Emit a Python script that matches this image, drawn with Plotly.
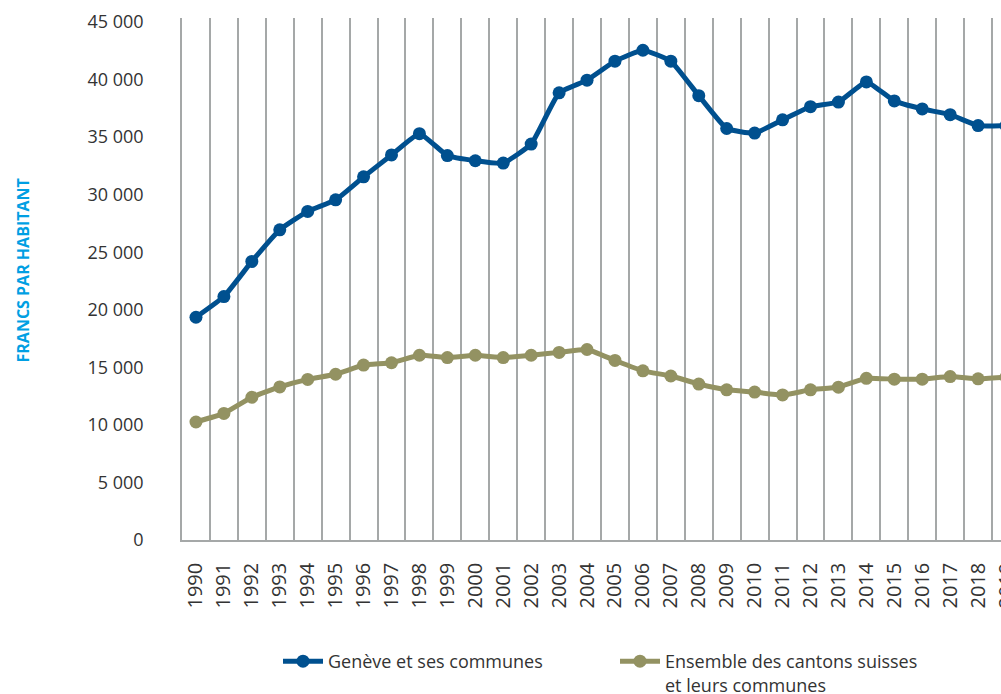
import plotly.graph_objects as go

years = [str(y) for y in range(1990, 2020)]
geneve = [19350, 21150, 24200, 26950, 28550, 29550, 31550, 33450, 35300, 33400,
          32950, 32750, 34400, 38850, 39950, 41600, 42550, 41600, 38600, 35750,
          35350, 36500, 37650, 38050, 39800, 38150, 37450, 36950, 36000, 36000]
suisse = [10250, 11000, 12400, 13300, 13950, 14400, 15200, 15400, 16050, 15850,
          16050, 15850, 16050, 16300, 16550, 15600, 14700, 14250, 13550, 13050,
          12850, 12600, 13050, 13280, 14050, 13970, 13970, 14200, 14000, 14150]
y_ticks = [0, 5000, 10000, 15000, 20000, 25000, 30000, 35000, 40000, 45000]

name_geneve = "Genève et ses communes"
name_suisse = "Ensemble des cantons suisses<br>et leurs communes"

BLUE = "#00508f"
OLIVE = "#939262"
GRID = "#a5a8a8"
FONT = "Open Sans"

W, H = 1030, 694
L, R, T, B = 182, 10, 18, 154

fig = go.Figure()
fig.add_trace(go.Scatter(
    x=years, y=geneve, name=name_geneve, mode="lines+markers",
    line=dict(color=BLUE, width=5, shape="spline", smoothing=0.4),
    marker=dict(color=BLUE, size=13),
))
fig.add_trace(go.Scatter(
    x=years, y=suisse, name=name_suisse, mode="lines+markers",
    line=dict(color=OLIVE, width=5, shape="spline", smoothing=0.4),
    marker=dict(color=OLIVE, size=13),
))

fig.update_layout(
    width=W, height=H,
    margin=dict(l=L, r=R, t=T, b=B, pad=0),
    paper_bgcolor="white", plot_bgcolor="white",
    separators=", ",
    font=dict(family=FONT, color="#333333", size=18),
    showlegend=True,
    legend=dict(
        orientation="h", xref="container", yref="container",
        x=278 / W, xanchor="left", y=1 - 643 / H, yanchor="top",
        font=dict(family=FONT, size=18, color="#333333"),
        itemwidth=40,
        entrywidth=282, entrywidthmode="pixels",
        valign="top", traceorder="normal",
        bgcolor="rgba(0,0,0,0)",
    ),
    annotations=[dict(
        text="<b>FRANCS PAR HABITANT</b>", textangle=-90,
        xref="paper", yref="paper",
        x=(22.5 - L) / (W - L - R), y=(540 - 271) / (H - T - B),
        xanchor="center", yanchor="middle", showarrow=False,
        font=dict(family=FONT, size=16, color="#009fe3"),
    )],
)

fig.update_xaxes(
    type="category", range=[-0.5, 29.5],
    tickson="boundaries", showgrid=True, gridcolor=GRID, gridwidth=1.5,
    ticks="", tickangle=-90, ticklabelstandoff=13,
    showline=True, linecolor=GRID, linewidth=1.5,
    tickfont=dict(family=FONT, size=20, color="#333333"),
    zeroline=False,
)
fig.update_yaxes(
    range=[0, 45350], tickvals=y_ticks, tickformat=",d",
    showgrid=False, zeroline=False,
    showline=True, linecolor=GRID, linewidth=1.5, ticks="",
    ticklabelstandoff=33,
    tickfont=dict(family=FONT, size=18, color="#333333"),
)

fig.write_html("out.html")
